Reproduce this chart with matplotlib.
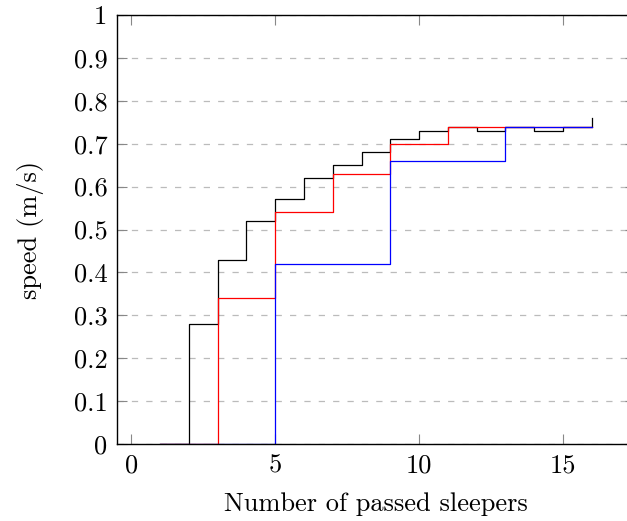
"""Step plot of speed against number of passed sleepers."""

import matplotlib

matplotlib.use("Agg")
import matplotlib.pyplot as plt
from matplotlib.ticker import FuncFormatter, MultipleLocator

plt.rcParams["font.family"] = "serif"
plt.rcParams["font.serif"] = ["cmr10", "DejaVu Serif"]
plt.rcParams["mathtext.fontset"] = "cm"
plt.rcParams["axes.formatter.use_mathtext"] = True

sleepers = [1, 2, 3, 4, 5, 6, 7, 8, 9, 10, 11, 12, 13, 14, 15, 16]
speed_black = [0, 0.28, 0.43, 0.52, 0.57, 0.62, 0.65, 0.68, 0.71, 0.73, 0.74, 0.73, 0.74, 0.73, 0.74, 0.76]
speed_red = [0, 0, 0.34, 0.34, 0.54, 0.54, 0.63, 0.63, 0.70, 0.70, 0.74, 0.74, 0.74, 0.74, 0.74, 0.74]
speed_blue = [0, 0, 0, 0, 0.42, 0.42, 0.42, 0.42, 0.66, 0.66, 0.66, 0.66, 0.74, 0.74, 0.74, 0.74]

fig = plt.figure(figsize=(6.27, 5.21), dpi=100)
ax = fig.add_axes([0.1866, 0.1478, 0.826, 0.8234])

for values, color in [(speed_black, "black"), (speed_red, "red"), (speed_blue, "blue")]:
    ax.plot(sleepers, values, drawstyle="steps-post", color=color, linewidth=0.9)

ax.set_xlim(-0.5, 17.5)
ax.set_ylim(0, 1)
ax.xaxis.set_major_locator(MultipleLocator(5))
ax.yaxis.set_major_locator(MultipleLocator(0.1))
ax.yaxis.set_major_formatter(FuncFormatter(lambda v, _: f"{round(v, 1):g}"))
ax.xaxis.set_major_formatter(FuncFormatter(lambda v, _: f"{v:g}"))

ax.grid(axis="y", color="#bbbbbb", linestyle=(0, (5, 6.5)), linewidth=0.9)
ax.set_axisbelow(True)
ax.tick_params(axis="both", direction="in", length=7, width=0.8, color="#888888",
               labelsize=19, top=True, right=True)
ax.tick_params(axis="x", pad=7)
ax.tick_params(axis="y", pad=7)
for spine in ax.spines.values():
    spine.set_linewidth(1.0)

ax.set_xlabel("Number of passed sleepers", fontsize=19, labelpad=11)
ax.set_ylabel("speed (m/s)", fontsize=19, labelpad=21)

fig.savefig("out.png", dpi=100)
